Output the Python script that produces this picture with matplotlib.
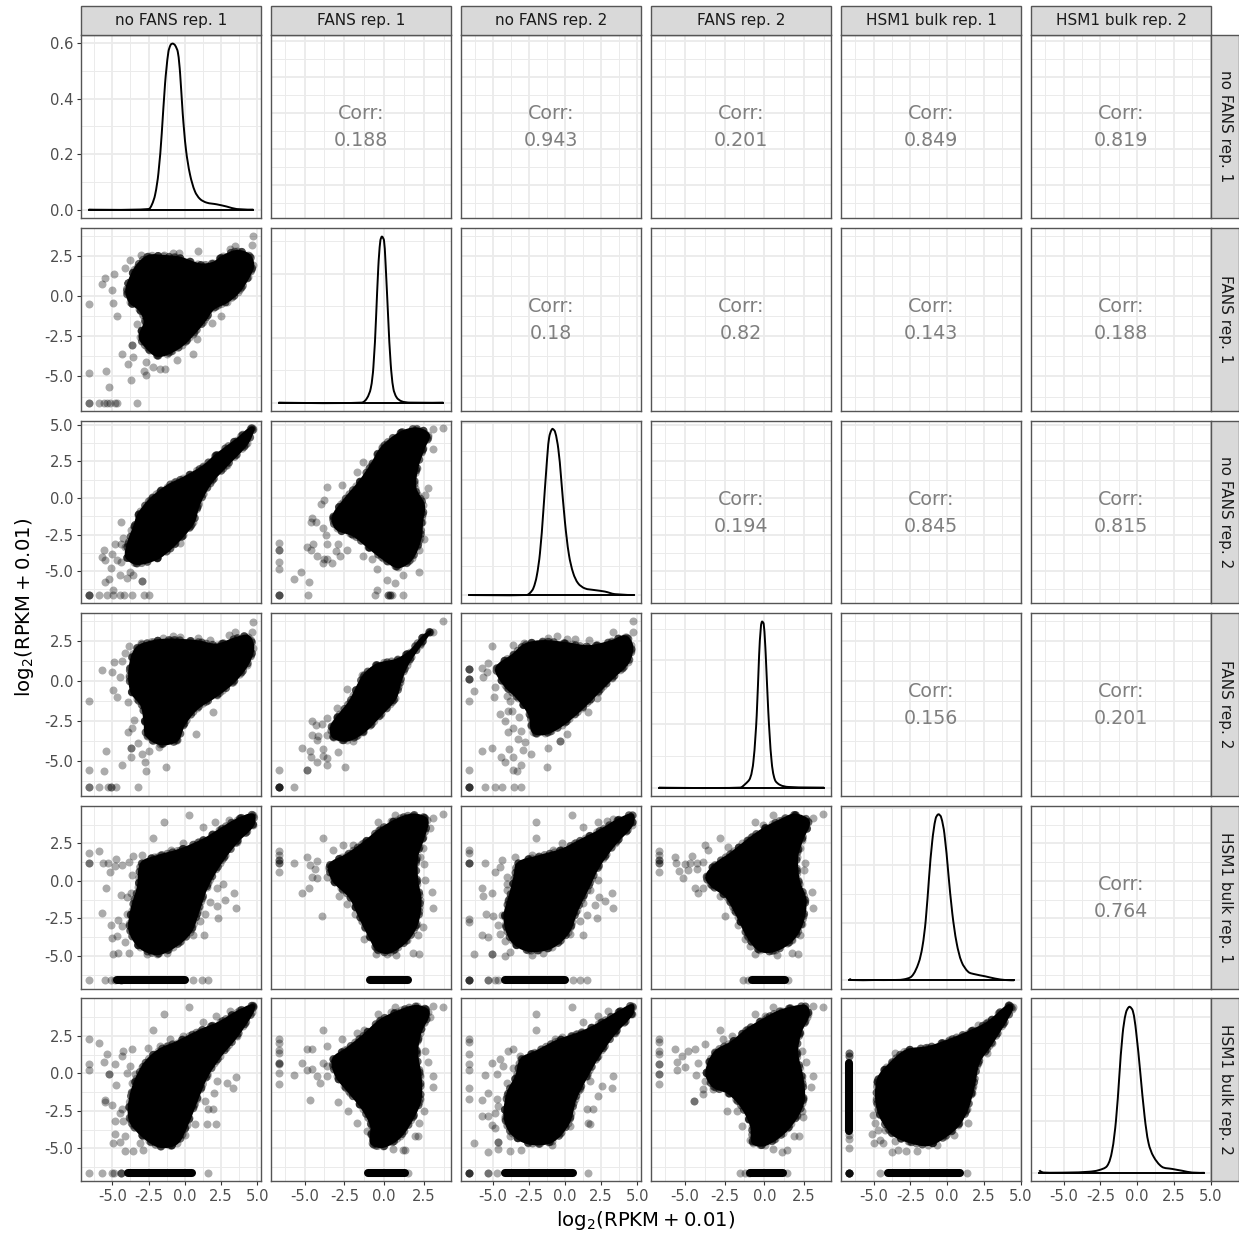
import matplotlib
matplotlib.use("Agg")
import matplotlib.pyplot as plt
from matplotlib.patches import Rectangle, PathPatch
from matplotlib.path import Path
import numpy as np

LABELS = ["no FANS rep. 1", "FANS rep. 1", "no FANS rep. 2", "FANS rep. 2", "HSM1 bulk rep. 1", "HSM1 bulk rep. 2"]
FLOOR = -6.64
CORR = {(0,1):"0.188",(0,2):"0.943",(0,3):"0.201",(0,4):"0.849",(0,5):"0.819",
        (1,2):"0.18",(1,3):"0.82",(1,4):"0.143",(1,5):"0.188",
        (2,3):"0.194",(2,4):"0.845",(2,5):"0.815",
        (3,4):"0.156",(3,5):"0.201",(4,5):"0.764"}
XLIMS = [(-7.17,5.27),(-7.12,4.22),(-7.19,5.26),(-7.14,4.20),(-7.21,5.03),(-7.21,5.03)]
YLIMS = [(-7.32,5.38),(-7.14,4.21),(-7.20,5.29),(-7.17,4.23),(-7.19,4.99),(-7.19,4.99)]

# density curves: x, height
D1_X = [-6.64,-2.51,-2.28,-2.05,-1.82,-1.59,-1.36,-1.13,-.97,-.83,-.67,-.48,-.32,-.14,.09,.37,.71,1.06,1.52,2.21,2.9,3.59,4.74]
D1_Y = [0,.002,.017,.053,.131,.274,.454,.568,.594,.598,.592,.568,.49,.346,.214,.125,.065,.038,.025,.019,.011,.002,0]
D2_X = [-6.64,-1.41,-1.09,-.84,-.67,-.5,-.36,-.23,-.13,0,.13,.27,.42,.59,.8,1.11,1.64,3.74]
D2_Y = [0,0,.031,.108,.275,.662,1.05,1.255,1.286,1.255,.998,.637,.301,.108,.039,.01,0,0]
D3_X = [-6.64,-2.65,-2.42,-2.19,-1.96,-1.73,-1.5,-1.27,-1.09,-.88,-.69,-.46,-.28,0,.28,.58,.92,1.38,2.07,2.76,3.45,4.77]
D3_Y = [0,0,.007,.023,.064,.145,.289,.451,.549,.578,.569,.509,.416,.254,.139,.075,.04,.023,.017,.012,.003,0]
D4_X = [-6.64,-1.53,-1.22,-.9,-.69,-.48,-.33,-.21,-.14,-.04,.09,.25,.46,.67,.99,1.51,3.76]
D4_Y = [0,0,.026,.073,.204,.569,1.039,1.274,1.305,1.287,1.039,.595,.204,.06,.021,.005,0]
D5_X = [-6.64,-6.5,-4.9,-3.76,-2.97,-2.4,-1.95,-1.68,-1.45,-1.22,-1.0,-.77,-.59,-.41,-.18,.09,.36,.66,1.0,1.45,1.9,2.58,3.27,3.95,4.56]
D5_Y = [.006,.001,.001,.001,.003,.014,.058,.115,.208,.359,.486,.563,.577,.568,.51,.371,.232,.128,.063,.029,.021,.014,.006,.001,0]
D6_X = [-6.64,-6.58,-6.35,-4.65,-3.29,-2.61,-2.04,-1.71,-1.43,-1.21,-.98,-.75,-.52,-.29,-.07,.23,.52,.79,1.13,1.7,2.38,3.06,3.74,4.58]
D6_Y = [.01,.006,.001,.001,.004,.01,.026,.081,.203,.369,.536,.619,.641,.626,.549,.382,.215,.113,.062,.023,.015,.008,.001,0]
DENSITIES = [(D1_X,D1_Y,.2),(D2_X,D2_Y,.5),(D3_X,D3_Y,.2),(D4_X,D4_Y,.5),(D5_X,D5_Y,.2),(D6_X,D6_Y,.2)]

# dense cores (outline of the solid cloud) and the isolated points around them, (x, y)
CORE_21 = [(-3.89,.79),(-3.32,1.83),(-2.51,2.46),(-1.47,2.46),(-.32,2.35),(1.06,1.94),(1.98,2.04),(2.67,2.46),(3.59,2.77),(4.4,2.56),(4.7,1.94),(4.4,1.21),(3.71,.27),(2.9,-.35),(1.98,-.77),(1.29,-1.6),(.6,-2.33),(-.21,-3.06),(-1.24,-3.58),(-1.94,-3.69),(-2.63,-3.17),(-3.09,-2.54),(-2.74,-1.6),(-3.09,-.87),(-3.78,-.35),(-4.0,.27)]
PTS_21 = [(4.7,3.75),(4.68,3.15),(3.48,3.08),(3.13,2.92),(.94,2.83),(-.37,2.67),(-.83,2.67),(-1.43,2.56),(-3.02,2.52),(-3.78,2.25),(-4.12,1.77),(-4.86,1.35),(-5.51,1.15),(-5.74,.73),(-5.05,.38),(-6.64,-.52),(-4.93,-.46),(-4.65,-1.25),(-3.27,-1.71),(-3.66,-3.02),(-3.66,-3.02),(-4.35,-3.63),(-3.59,-3.79),(-3.89,-4.21),(-2.7,-4.1),(-2.81,-4.63),(-2.7,-4.88),(-2.17,-4.42),(-1.71,-4.56),(-1.36,-4.56),(-.55,-3.96),(.55,-3.58),(.83,-2.65),(1.91,-1.65),(2.51,-1.25),(-6.64,-4.77),(-5.46,-4.69),(-5.23,-5.67),(-3.73,-5.21)]
BOTTOM_21 = [-6.64,-6.64,-5.9,-5.6,-5.35,-5.15,-4.85,-4.7,-3.27]

CORE_31 = [(-3.43,-1.85),(-3.2,-1.16),(-2.4,-.14),(-1.24,.78),(-.09,1.35),(1.29,2.15),(2.21,2.95),(3.59,3.97),(4.52,4.75),(4.72,4.73),(4.29,3.74),(2.9,2.26),(1.75,1.0),(.94,-.48),(.6,-1.62),(-.09,-2.53),(-1.01,-3.45),(-1.94,-4.13),(-3.32,-4.47),(-4.01,-4.02),(-3.89,-3.11)]
PTS_31 = [(-2.28,.02),(-1.75,.39),(-4.42,-1.64),(-3.71,-2.19),(-4.82,-3.11),(-4.42,-3.11),(-4.24,-2.76),(-4.12,-3.33),(-5.58,-3.54),(-5.69,-4.06),(-5.05,-3.86),(-5.51,-4.25),(-4.7,-4.25),(-5.12,-4.77),(-4.42,-4.36),(-4.47,-5.27),(-4.01,-5.5),(-3.78,-5.05),(-3.55,-5.27),(-5.21,-5.53),(-5.48,-5.73),(-2.93,-5.66),(-2.93,-5.66),(-4.98,-6.28),(-.32,-3.06),(.37,-1.9)]
BOTTOM_31 = [-6.64,-6.64,-6.64,-5.93,-5.4,-4.94,-4.47,-4.17,-3.67,-2.81,-2.44]

CORE_32 = [(-3.19,-1.28),(-2.56,-.25),(-1.51,1.12),(-.78,2.26),(-.15,3.4),(1.01,4.43),(2.06,4.73),(2.79,4.32),(2.48,3.4),(2.06,2.03),(1.95,.66),(2.48,-.48),(2.37,-1.62),(2.27,-2.76),(1.74,-4.13),(.9,-4.7),(-.04,-4.13),(-.99,-3.33),(-1.93,-2.53),(-2.98,-2.08)]
PTS_32 = [(3.7,4.77),(3.11,4.73),(3.07,3.36),(-1.3,2.44),(-1.72,1.76),(-2.67,.89),(-3.61,.73),(-3.78,-.14),(-3.99,-.41),(-4.56,-1.39),(-4.29,-1.67),(-4.62,-1.62),(-3.82,-2.08),(-3.66,-2.53),(-3.61,-3.11),(-2.88,-3.11),(-4.45,-3.11),(-4.87,-3.38),(-4.62,-3.56),(-4.24,-3.97),(-3.78,-4.18),(-3.61,-4.18),(-3.3,-4.47),(-3.87,-4.41),(-3.05,-3.61),(-2.77,-3.97),(-2.35,-3.56),(-1.3,-3.97),(-.78,-4.18),(-.46,-4.86),(.17,-5.62),(.69,-5.8),(1.22,-5.27),(2.21,-5.05),(2.21,-3.56),(2.52,-2.81),(2.79,.71),(2.58,.21),(-5.23,-5.05),(-5.67,-5.53),(-4.71,-5.75),(-.46,-6.28)]
LEFT_32 = [-3.08,-3.54,-3.54,-4.36,-4.82]
BOTTOM_32 = [-6.64,-6.64,-6.64,-4.79,-.57,.27,.27,.38,.38,.48,1.18]

CORE_41 = [(-3.78,.79),(-3.32,2.04),(-2.17,2.46),(-1.01,2.56),(.83,2.46),(2.21,2.25),(3.59,2.67),(4.4,2.77),(4.7,2.04),(4.29,1.0),(3.36,-.04),(2.21,-.88),(.83,-1.71),(-.09,-2.75),(-.55,-3.69),(-1.71,-3.9),(-2.63,-3.38),(-2.74,-2.54),(-2.97,-1.5),(-3.66,-.67)]
PTS_41 = [(4.7,3.71),(4.65,3.04),(3.48,3.08),(3.09,2.88),(1.75,2.56),(.94,2.67),(-.32,2.77),(-.83,2.83),(-1.47,2.67),(-3.02,2.4),(-3.82,2.19),(-4.12,1.73),(-4.86,1.17),(-4.35,1.25),(-5.69,.69),(-5.05,.54),(-4.47,.27),(-4.93,-.56),(-4.7,-.98),(-3.89,-1.29),(-6.64,-1.27),(-3.48,-2.44),(-3.66,-2.9),(-3.89,-3.17),(.78,-3.29),(1.94,-1.96),(-5.46,-4.38),(-3.71,-4.21),(-3.71,-4.21),(-3.73,-4.77),(-2.93,-4.58),(-2.47,-4.38),(-2.74,-5.04),(-2.7,-5.6),(-4.35,-5.25),(-1.29,-5.38),(-6.64,-5.54),(-5.58,-5.6),(-3.2,-3.85),(-1.75,-4.1)]
BOTTOM_41 = [-6.64,-6.64,-5.9,-5.28,-5.12,-5.12,-4.75,-3.2]

CORE_42 = [(-3.3,-2.85),(-2.98,-2.33),(-2.14,-1.29),(-1.3,.27),(-.46,1.0),(.8,1.31),(1.64,1.83),(2.48,2.77),(2.9,3.08),(2.27,2.25),(1.43,1.0),(1.01,-.04),(.69,-1.08),(-.25,-2.13),(-1.3,-3.17),(-2.35,-3.69),(-3.19,-3.48)]
PTS_42 = [(3.72,3.73),(3.11,3.06),(-2.35,-.52),(-1.41,.38),(-2.98,-1.71),(-4.56,-2.48),(-3.61,-2.33),(-3.93,-2.65),(-4.29,-2.75),(-4.52,-3.38),(-4.14,-3.42),(-3.61,-3.38),(-4.24,-3.69),(-3.19,-3.06),(-1.41,-3.13),(-1.93,-3.75),(-2.92,-4.42),(-5.19,-4.17),(-4.66,-4.38),(-4.62,-4.73),(-3.82,-4.27),(-3.82,-4.67),(-3.61,-4.83),(-3.61,-5.25),(-4.2,-5.08),(-4.83,-5.58),(-4.83,-5.58),(-2.46,-5.38),(-6.62,-5.58)]
BOTTOM_42 = [-6.64,-6.64,-6.64,-6.64,-6.64,-5.67]

CORE_43 = [(-4.72,.79),(-3.57,1.63),(-2.76,2.25),(-1.61,2.46),(0,2.35),(1.61,2.15),(3.23,2.46),(4.15,2.77),(4.6,2.25),(4.38,1.21),(3.23,.17),(2.3,-.67),(1.15,-1.71),(-.23,-2.75),(-1.38,-3.27),(-2.19,-3.17),(-2.42,-2.13),(-3.23,-1.08),(-4.15,-.25)]
PTS_43 = [(4.72,3.73),(4.68,3.04),(3.34,3.04),(1.68,2.56),(.69,2.63),(.12,2.63),(-.58,2.83),(-1.2,2.67),(-2.81,2.4),(-3.57,2.25),(-5.07,2.17),(-5.3,1.1),(-5.76,.79),(-5.41,.58),(-5.65,.27),(-4.84,-.35),(-4.88,-1.02),(-6.29,-.6),(-6.64,-1.27),(-4.03,-.92),(-3.8,-1.25),(-4.49,-2.06),(-3.96,-1.85),(-3.64,-1.85),(-4.15,-2.48),(-3.16,-2.23),(-3.96,-3.17),(-3.57,-2.9),(-3.04,-3.13),(-3.23,-3.63),(-2.76,-3.83),(.12,-3.31),(-.35,-3.73),(-.35,-3.73),(-1.15,-4.15),(1.61,-1.92),(2.19,-1.08),(-2.35,-4.56),(-2.88,-4.31),(-3.87,-4.25),(-5.02,-4.17),(-5.71,-4.35),(-4.42,-4.77),(-4.15,-5.04),(-3.57,-4.73),(-3.06,-5.25),(-3.57,-5.56),(-3.34,-5.6),(-1.22,-5.38),(-6.64,-5.54)]
LEFT_43 = [.77,.77,.77,.15,.15,.15]
BOTTOM_43 = [-6.64,-6.64,-6.64,-6.64,-5.53,-4.84,-4.38,-3.53,-3.06]

CORE_51 = [(-2.97,1.16),(-1.94,1.6),(-.32,2.05),(1.29,2.72),(2.44,3.39),(3.59,4.05),(4.7,4.39),(4.7,3.72),(3.59,2.61),(2.44,1.16),(1.52,-.4),(.94,-1.96),(.37,-3.41),(-.78,-4.41),(-1.94,-4.86),(-3.09,-4.41),(-3.78,-3.3),(-3.66,-1.96),(-3.2,-.4)]
PTS_51 = [(.3,4.39),(-1.43,3.9),(-2.21,2.83),(1.24,3.61),(2.12,3.9),(3.09,4.05),(-.14,2.49),(-.97,2.05),(-1.71,1.71),(-2.97,1.71),(-3.59,1.67),(-4.75,1.43),(-5.9,2.0),(-6.61,1.83),(-6.61,1.16),(-6.61,1.16),(-5.62,1.16),(-5.28,1.22),(-4.35,1.05),(-3.82,1.27),(-4.82,1.0),(-5.16,.6),(-3.66,.38),(-5.46,-.47),(-4.42,-.96),(-4.01,-1.07),(-3.71,-.8),(-5.71,-2.18),(-4.01,-2.23),(-4.59,-2.63),(-5.07,-2.96),(-4.35,-3.03),(-5.05,-3.79),(-4.7,-3.67),(-4.12,-4.08),(-4.93,-4.9),(-4.59,-4.81),(-3.85,-4.79),(-2.58,-4.9),(-1.2,-4.79),(.6,-3.59),(1.36,-3.59),(1.06,-2.67),(1.41,-2.23),(2.33,-2.45),(2.21,-1.69),(2.79,-1.25),(3.55,-1.8),(3.41,-.78),(2.63,-.18),(2.21,-.45),(1.75,-1.4),(.83,-2.18)]
BOTTOM_51 = [-6.64,-5.53,-5.07,-4.84,-4.42,-4.42,.6,1.17,1.63]
ROW_51 = (-4.7,0.0)

CORE_52 = [(-3.4,1.05),(-2.35,1.71),(-1.3,2.49),(-.25,3.39),(.8,4.05),(1.85,4.39),(2.69,4.05),(2.48,2.94),(2.06,1.6),(2.06,.04),(2.27,-1.29),(2.06,-2.85),(1.43,-3.96),(.38,-4.74),(-.36,-4.63),(-.88,-3.74),(-1.51,-2.41),(-2.14,-1.07),(-3.19,.04)]
PTS_52 = [(3.72,4.48),(3.11,4.21),(.69,4.39),(-.4,3.9),(.44,4.01),(2.9,3.5),(-3.82,2.83),(-2.56,2.38),(-3.19,2.05),(-1.93,2.38),(-1.2,2.61),(-4.87,1.56),(-4.24,1.34),(-5.67,1.2),(-4.66,1.05),(-4.35,.82),(-4.56,.27),(-4.24,.2),(-3.61,.27),(-4.71,-.47),(-5.19,-.82),(-2.82,-1.02),(-2.35,-1.58),(-3.93,-2.32),(-1.83,-2.23),(-1.26,-3.85),(-.5,-4.86),(.17,-4.9),(.76,-4.97),(1.81,-4.79),(2.23,-4.86),(2.48,-3.07),(2.16,-3.63),(3.07,-1.8),(3.05,-.76),(2.58,.04),(2.52,1.11),(2.27,1.6),(2.48,2.16)]
LEFT_52 = [2.0,1.71,1.38,1.38,1.16,1.16,.6]
ROW_52 = (-.88,1.53)

CORE_53 = [(-3.23,1.16),(-1.84,1.6),(-.23,2.05),(1.38,2.83),(2.53,3.39),(3.69,4.05),(4.65,4.39),(4.61,3.72),(3.46,2.49),(2.3,.94),(1.5,-.62),(.81,-1.96),(.23,-3.41),(-.92,-4.41),(-2.53,-4.63),(-3.69,-3.96),(-4.15,-2.41),(-3.8,-1.07),(-3.46,.27)]
PTS_53 = [(.51,4.39),(-2.0,3.9),(-2.0,2.83),(1.27,3.61),(2.3,3.9),(2.93,4.01),(3.34,4.1),(-.23,2.49),(-.81,2.05),(-2.3,1.71),(-3.46,1.56),(-4.38,1.38),(-5.53,1.2),(-4.84,.56),(-4.49,.94),(-4.03,.27),(-4.03,-.18),(-4.03,-.62),(-5.71,-.47),(-5.65,-1.0),(-5.02,-.8),(-3.92,-1.29),(-5.48,-2.23),(-4.95,-2.36),(-4.38,-2.29),(-4.61,-2.96),(-4.49,-3.52),(-5.76,-3.63),(-5.3,-3.74),(-4.1,-3.07),(-4.15,-4.01),(-3.8,-4.74),(-4.15,-5.01),(-5.02,-4.86),(-5.02,-4.86),(-6.27,-4.9),(-2.3,-4.97),(-1.5,-4.81),(.35,-3.52),(1.22,-3.59),(1.04,-2.67),(1.5,-2.25),(2.19,-2.47),(2.07,-1.63),(2.76,-1.36),(3.34,-1.8),(3.23,-.78),(2.3,.04),(2.35,-1.11),(1.73,-.62),(1.27,-1.51)]
LEFT_53 = [2.05,1.83,1.16,1.16,1.16,-2.58,-2.74]
BOTTOM_53 = [-6.64,-6.64,-6.64,-6.64,-5.35,-5.35,-4.84,-4.61,.58,1.04,1.54]
ROW_53 = (-4.15,0.0)

CORE_54 = [(-3.63,.27),(-3.11,1.05),(-2.06,1.83),(-1.01,2.72),(.04,3.5),(1.09,4.05),(1.93,4.39),(2.77,3.94),(2.35,2.72),(2.04,1.6),(2.14,.04),(2.56,-1.29),(2.35,-2.85),(1.72,-3.96),(.67,-4.63),(-.27,-4.63),(-1.01,-3.74),(-1.64,-2.41),(-2.37,-1.07),(-3.32,-.29)]
PTS_54 = [(3.72,4.48),(3.05,4.21),(.57,4.39),(-.59,3.9),(.32,3.43),(-.06,3.72),(2.56,3.61),(-2.79,2.83),(-3.74,2.38),(-3.57,2.05),(-2.27,2.27),(-1.43,2.49),(-5.63,1.56),(-4.54,1.67),(-5.59,1.16),(-5.0,1.11),(-4.68,1.16),(-4.26,1.2),(-3.84,1.27),(-5.38,.67),(-4.79,.71),(-4.26,.82),(-5.11,.16),(-4.37,-.45),(-3.84,-.45),(-4.16,-.82),(-2.79,-1.0),(-2.48,-2.32),(-1.91,-1.92),(-1.64,-2.96),(-1.22,-3.85),(-.9,-4.34),(-.59,-4.9),(.78,-4.97),(1.76,-4.79),(2.14,-4.86),(2.25,-3.63),(3.09,-1.8),(2.98,-.76),(2.56,1.16),(2.52,.71),(2.25,2.16)]
LEFT_54 = [2.0,1.71,1.38,1.38,1.16,1.16,.6]
BOTTOM_54 = [-1.32,-1.01,1.5]
ROW_54 = (-.8,1.3)

CORE_61 = [(-3.66,-1.29),(-2.86,.49),(-1.82,1.5),(-.55,2.05),(1.06,2.83),(2.44,3.39),(3.59,4.06),(4.7,4.51),(4.65,4.06),(3.59,2.5),(2.44,1.16),(1.52,-.18),(.83,-1.74),(.14,-3.42),(-.55,-4.64),(-1.71,-4.87),(-2.86,-4.2),(-3.78,-3.08)]
PTS_61 = [(.3,4.42),(-1.43,3.95),(-2.21,2.86),(4.7,4.46),(2.14,3.84),(3.13,4.13),(1.29,3.39),(-1.01,2.28),(-.09,2.46),(-1.71,1.83),(-2.51,1.72),(-3.66,1.61),(-4.24,1.5),(-6.61,2.3),(-5.9,2.03),(-5.39,1.29),(-5.58,.76),(-4.35,1.14),(-4.82,.65),(-6.64,.65),(-6.64,.2),(-5.21,-.02),(-5.21,-.02),(-4.01,.04),(-3.78,.49),(-3.66,-.62),(-4.75,-.76),(-3.43,-.07),(-5.51,-1.79),(-5.51,-1.92),(-5.0,-2.1),(-4.35,-2.41),(-4.47,-2.63),(-4.82,-3.19),(-4.24,-3.19),(-4.82,-4.04),(-4.12,-4.15),(-4.93,-4.64),(-4.12,-5.2),(-4.47,-4.58),(-3.55,-5.2),(-2.86,-5.13),(-3.09,-4.64),(-1.08,-4.8),(.02,-4.13),(.71,-3.35),(1.52,-3.35),(2.14,-3.35),(1.64,-2.41),(1.98,-2.41),(.14,-2.86),(2.9,-.62),(3.53,-.22),(3.36,-.96),(2.21,-.51),(2.03,-1.29),(1.41,-1.85)]
BOTTOM_61 = [-6.64,-5.71,-5.05,-4.89,-4.42,-4.42,-4.42,1.64]
ROW_61 = (-3.89,.48)

CORE_62 = [(-3.19,.94),(-2.35,1.61),(-1.3,2.5),(-.25,3.5),(.8,4.06),(2.06,4.46),(2.79,4.06),(2.27,2.72),(2.06,1.38),(2.27,-.18),(2.27,-1.74),(1.85,-2.86),(1.01,-4.2),(-.04,-4.87),(-.78,-4.64),(-.78,-3.53),(-1.3,-2.41),(-2.14,-1.29),(-2.98,-.18)]
PTS_62 = [(3.72,4.42),(3.11,4.51),(.69,4.42),(-.4,3.95),(.42,4.06),(2.9,3.73),(-3.82,2.86),(-1.26,2.88),(-1.72,2.72),(-2.67,2.28),(-3.61,1.83),(-4.87,1.61),(-4.56,1.61),(-5.19,.69),(-5.67,-.09),(-4.83,.2),(-4.56,.27),(-4.24,-.18),(-4.03,-.62),(-3.61,.49),(-3.61,-.18),(-3.82,.71),(-4.66,-1.76),(-2.92,-1.92),(-2.25,-2.5),(-1.72,-3.3),(-1.09,-3.88),(.59,-5.02),(1.22,-5.13),(1.32,-5.13),(1.95,-4.2),(2.16,-4.2),(2.23,-3.3),(2.52,-2.52),(3.07,-.92),(3.07,-.2),(2.79,.76),(2.58,1.5),(2.06,2.17)]
LEFT_62 = [2.31,2.04,1.56,1.34,.71,.71,.6,0,-.74]
BOTTOM_62 = [1.53]
ROW_62 = (-.99,1.35)

CORE_63 = [(-3.0,.94),(-2.07,1.38),(-.46,2.17),(1.15,2.72),(2.53,3.39),(3.69,4.06),(4.65,4.51),(4.61,3.95),(3.46,2.72),(2.3,1.16),(1.5,-.18),(.69,-1.74),(.23,-3.3),(-.92,-4.53),(-2.53,-4.64),(-3.69,-3.97),(-4.15,-2.86),(-3.92,-1.29),(-3.34,-.18)]
PTS_63 = [(.51,4.42),(-2.0,3.95),(-2.0,2.86),(2.3,3.84),(1.27,3.39),(3.0,4.13),(-.69,2.28),(-.23,2.39),(.46,2.46),(-3.57,1.61),(-3.92,1.5),(-4.49,.94),(-5.07,.71),(-4.26,.49),(-4.72,-.02),(-5.53,-.09),(-3.57,.38),(-3.11,1.16),(-4.03,-.62),(-5.3,-1.29),(-5.76,-1.79),(-4.72,-1.74),(-4.61,-2.19),(-4.84,-2.63),(-5.76,-2.86),(-5.07,-3.42),(-5.3,-2.86),(-4.84,-3.64),(-4.61,-4.58),(-4.61,-4.58),(-4.61,-5.02),(-5.3,-5.25),(-6.27,-4.67),(-3.8,-5.2),(-3.04,-5.13),(-3.8,-4.2),(-.92,-4.8),(.35,-3.53),(1.61,-3.3),(1.73,-3.35),(1.5,-2.41),(1.96,-2.41),(2.3,-1.52),(2.53,-.85),(3.34,-.18),(3.23,-.96),(1.73,-.51),(1.04,-1.07)]
LEFT_63 = [2.31,2.06,1.29,.65,.2,-1.0,-1.74]
BOTTOM_63 = [-6.64,-6.64,-6.64,-6.64,-5.35,-5.35,-4.72,1.56]
ROW_63 = (-4.15,.58)

CORE_64 = [(-3.63,.04),(-3.11,1.38),(-2.06,2.05),(-1.01,2.95),(.04,3.62),(1.09,4.17),(2.56,4.46),(2.77,3.95),(2.25,2.72),(2.04,1.38),(2.35,-.18),(2.46,-1.74),(2.04,-2.86),(1.2,-3.97),(.04,-4.75),(-.69,-4.64),(-.8,-3.53),(-1.43,-2.19),(-2.27,-1.29),(-3.21,-.85)]
PTS_64 = [(3.72,4.42),(3.05,4.51),(.57,4.42),(-.59,3.95),(.04,3.84),(2.67,3.73),(-2.79,2.86),(-.9,2.83),(-1.43,2.72),(-2.58,2.28),(-2.06,2.46),(-3.74,1.94),(-4.37,1.61),(-5.63,1.65),(-4.79,1.5),(-5.21,1.16),(-5.53,.76),(-5.0,.42),(-5.48,.2),(-4.16,.71),(-4.33,-.11),(-3.74,-.51),(-3.84,-1.07),(-3.84,-1.41),(-4.41,-1.85),(-4.41,-1.85),(-3.21,-1.07),(-2.33,-2.52),(-1.74,-2.5),(-1.43,-3.53),(-.9,-4.42),(.57,-5.02),(1.09,-5.25),(1.41,-5.13),(1.87,-4.2),(2.21,-4.2),(2.46,-2.92),(2.35,-2.52),(3.09,-.2),(2.94,-.92),(2.63,.76),(2.35,1.5),(1.93,2.17)]
LEFT_64 = [2.31,2.06,1.5,1.27,.65,.65,-.02,-.02,-.74]
BOTTOM_64 = [-1.53,-1.22,-.98,1.41]
ROW_64 = (-.9,1.2)

CORE_65 = [(-4.67,-.4),(-3.76,.71),(-2.74,1.5),(-1.27,1.72),(.09,2.17),(1.45,2.72),(2.81,3.39),(4.17,4.51),(4.4,4.29),(3.04,2.05),(2.13,.71),(1.79,-.85),(1.34,-2.41),(.77,-3.42),(-.14,-4.2),(-1.27,-4.75),(-2.63,-4.53),(-3.76,-3.97),(-4.67,-2.41)]
PTS_65 = [(4.51,4.42),(4.22,4.55),(2.7,3.39),(2.13,3.21),(1.11,2.46),(-.25,2.05),(-3.54,1.38),(-4.22,.27),(-4.78,-.51),(-4.85,-1.85),(-5.01,-2.75),(-4.9,-3.3),(-5.08,-4.08),(-4.72,-3.75),(-4.22,-3.75),(-4.94,-4.64),(-4.56,-4.42),(-4.38,-4.64),(-3.54,-4.53),(-3.76,-5.27),(-3.31,-5.13),(-2.81,-5.16),(-2.06,-5.2),(-.7,-4.8),(.48,-4.13),(1.45,-3.3),(1.68,-1.29),(1.68,-.85),(2.7,1.38)]
LEFT_65 = [1.38,1.38,1.16,1.16,-4.1,-4.38,-5.0]
BOTTOM_65 = [-6.64,-6.64,-6.64,-6.64,-6.64,-6.64,-6.64,-4.56,1.34]
ROW_65 = (-3.99,.88)
COL_65 = (-3.86,.71)

LOWER = {
 (1,0):(CORE_21,PTS_21,[],BOTTOM_21,None,None),
 (2,0):(CORE_31,PTS_31,[],BOTTOM_31,None,None),
 (2,1):(CORE_32,PTS_32,LEFT_32,BOTTOM_32,None,None),
 (3,0):(CORE_41,PTS_41,[],BOTTOM_41,None,None),
 (3,1):(CORE_42,PTS_42,[],BOTTOM_42,None,None),
 (3,2):(CORE_43,PTS_43,LEFT_43,BOTTOM_43,None,None),
 (4,0):(CORE_51,PTS_51,[],BOTTOM_51,ROW_51,None),
 (4,1):(CORE_52,PTS_52,LEFT_52,[],ROW_52,None),
 (4,2):(CORE_53,PTS_53,LEFT_53,BOTTOM_53,ROW_53,None),
 (4,3):(CORE_54,PTS_54,LEFT_54,BOTTOM_54,ROW_54,None),
 (5,0):(CORE_61,PTS_61,[],BOTTOM_61,ROW_61,None),
 (5,1):(CORE_62,PTS_62,LEFT_62,BOTTOM_62,ROW_62,None),
 (5,2):(CORE_63,PTS_63,LEFT_63,BOTTOM_63,ROW_63,None),
 (5,3):(CORE_64,PTS_64,LEFT_64,BOTTOM_64,ROW_64,None),
 (5,4):(CORE_65,PTS_65,LEFT_65,BOTTOM_65,ROW_65,COL_65),
}

W, H = 1239, 1237
LEFTS = [81, 271, 461, 651, 841, 1031]
TOPS = [35.3, 228.3, 420.7, 613.3, 806, 998.5]
PW, PH = 180, 182.6
MARK_S = 33
MARK_A = 0.33
MARK_D = 5.8

fig = plt.figure(figsize=(W/100, H/100), dpi=100, facecolor="white")

def spline_path(x, y, closed=False, aspect=(1.0, 1.0)):
    """Smooth Bezier path running through the read points (no added data)."""
    p = np.column_stack([x, y]).astype(float)
    n = len(p)
    s = np.array(aspect, dtype=float)
    def chord(a, b):
        return max(np.hypot(*((b-a)*s)), 1e-6)
    def tangent(i):
        if closed or 0 < i < n-1:
            a, b, c = p[(i-1) % n], p[i], p[(i+1) % n]
            d0, d1 = chord(a, b), chord(b, c)
            return (c-a)/(d0+d1)
        return np.zeros(2)
    verts, codes = [p[0]], [Path.MOVETO]
    for i in range(n if closed else n-1):
        j = (i+1) % n
        d = chord(p[i], p[j])
        verts += [p[i]+tangent(i)*d/3, p[j]-tangent(j)*d/3, p[j]]
        codes += [Path.CURVE4]*3
    return Path(verts, codes)

def fill_grid(ax, lim, step, axis):
    lo, hi = lim
    k = np.arange(-20, 21)
    major = [v for v in k*step if lo <= v <= hi]
    minor = [v for v in (k+0.5)*step if lo <= v <= hi]
    if axis == "x":
        ax.set_xticks(major); ax.set_xticks(minor, minor=True)
    else:
        ax.set_yticks(major); ax.set_yticks(minor, minor=True)
    return major

def fmt(v, d=1):
    return f"{v:.{d}f}"

for r in range(6):
    for c in range(6):
        ax = fig.add_axes([LEFTS[c]/W, 1-(TOPS[r]+PH)/H, PW/W, PH/H])
        ax.set_xlim(XLIMS[c])
        xmaj = fill_grid(ax, XLIMS[c], 2.5, "x")
        px_x = PW/(XLIMS[c][1]-XLIMS[c][0])
        if r == c:
            dx, dy, st = DENSITIES[r]
            pk = max(dy)
            ylim = (-0.05*pk, 1.05*pk)
            ax.set_ylim(ylim)
            ymaj = fill_grid(ax, ylim, st, "y")
            ax.add_patch(PathPatch(spline_path(dx, dy, aspect=(px_x, PH/(ylim[1]-ylim[0]))), fill=False,
                                   edgecolor="black", lw=1.4, zorder=3))
            ax.plot([dx[0], dx[-1]], [0, 0], color="black", lw=1.4, zorder=3)
            ylab = [fmt(v) for v in ymaj]
        else:
            ax.set_ylim(YLIMS[r])
            ymaj = fill_grid(ax, YLIMS[r], 2.5, "y")
            ylab = [fmt(v) for v in ymaj]
        if r < c:
            ax.text(0.5, 0.497, "Corr:\n" + CORR[(r, c)], transform=ax.transAxes, ha="center", va="center",
                    color="#7F7F7F", fontsize=13.7, linespacing=1.53)
        if r > c:
            core, pts, left, bottom, row, col = LOWER[(r, c)]
            cx = [p[0] for p in core]; cy = [p[1] for p in core]
            outline = spline_path(cx, cy, closed=True, aspect=(px_x, PH/(YLIMS[r][1]-YLIMS[r][0])))
            ax.add_patch(PathPatch(outline, facecolor="black", edgecolor="black", lw=2.2, joinstyle="round", zorder=3))
            # bubbly rim: round dots along the outline of the dense cloud
            for dash, off, al in (((0.02, 1.35), 0, .6), ((0.02, 2.0), 0.6, .45), ((0.02, 2.9), 1.1, .35)):
                ax.add_patch(PathPatch(outline, fill=False, edgecolor=(0, 0, 0, al), lw=MARK_D, capstyle="round",
                                       linestyle=(off, dash), zorder=2.7))
            ax.scatter(cx, cy, s=MARK_S, color="black", alpha=MARK_A, linewidths=0, zorder=2.6)
            px = [p[0] for p in pts]+[FLOOR]*len(left)+list(bottom)
            py = [p[1] for p in pts]+list(left)+[FLOOR]*len(bottom)
            ax.scatter(px, py, s=MARK_S, color="black", alpha=MARK_A, linewidths=0, zorder=4)
            if row:
                ax.plot(row, [FLOOR, FLOOR], color="black", lw=MARK_D, solid_capstyle="round", zorder=4)
            if col:
                ax.plot([FLOOR, FLOOR], col, color="black", lw=MARK_D, solid_capstyle="round", zorder=4)
        ax.set_axisbelow(True)
        ax.grid(which="major", color="#EBEBEB", lw=1.3)
        ax.grid(which="minor", color="#EBEBEB", lw=0.7)
        for s in ax.spines.values():
            s.set_color("#555555"); s.set_linewidth(1.0); s.set_zorder(6)
        ax.tick_params(which="minor", length=0)
        ax.tick_params(which="major", length=3.2, width=0.8, color="#333333", labelcolor="#4D4D4D", labelsize=10.6, pad=2.2,
                       left=(c == 0), bottom=(r == 5), labelleft=(c == 0), labelbottom=(r == 5))
        if c == 0:
            ax.set_yticklabels(ylab)
        if r == 5:
            ax.set_xticklabels([fmt(v) for v in xmaj])

# facet strips
for c, lab in enumerate(LABELS):
    fig.add_artist(Rectangle((LEFTS[c]/W, 1-TOPS[0]/H), PW/W, 29.3/H, transform=fig.transFigure,
                             facecolor="#D9D9D9", edgecolor="#555555", lw=1.0))
    fig.text((LEFTS[c]+PW/2)/W, 1-(TOPS[0]-14.3)/H, lab, ha="center", va="center", fontsize=11, color="#1A1A1A")
for r, lab in enumerate(LABELS):
    fig.add_artist(Rectangle((1211/W, 1-(TOPS[r]+PH)/H), 28/W, PH/H, transform=fig.transFigure,
                             facecolor="#D9D9D9", edgecolor="#555555", lw=1.0))
    fig.text(1225/W, 1-(TOPS[r]+PH/2)/H, lab, ha="center", va="center", rotation=-90, fontsize=11, color="#1A1A1A")

AXIS_LABEL = r"$\mathrm{log}_2(\mathrm{RPKM} + 0.01)$"
fig.text(646/W, 1-1220/H, AXIS_LABEL, ha="center", va="center", fontsize=14.2, color="black")
fig.text(25/W, 1-607/H, AXIS_LABEL, ha="center", va="center", rotation=90, fontsize=14.2, color="black")

fig.savefig("out.png", dpi=100, facecolor="white")
